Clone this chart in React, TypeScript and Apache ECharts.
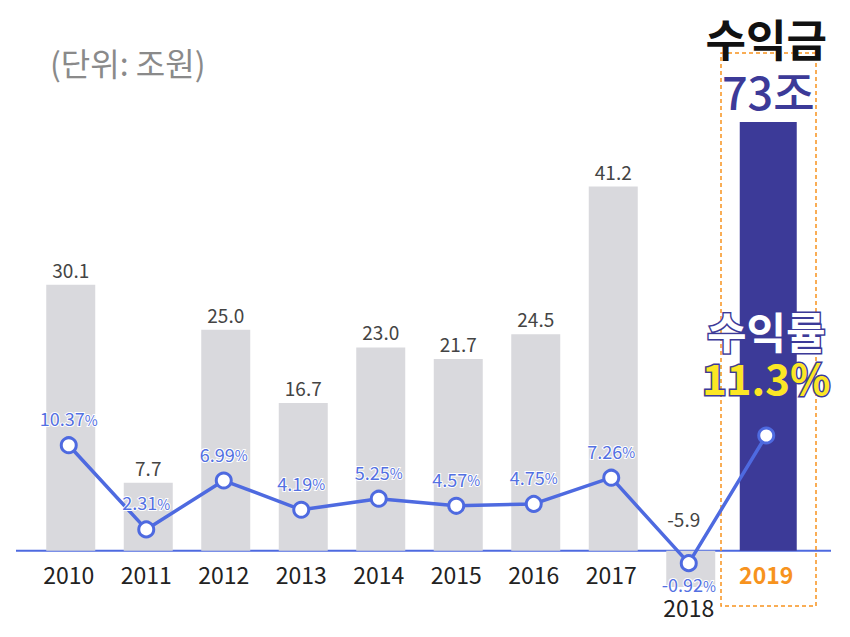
import React, { useEffect, useRef } from 'react';
import * as echarts from 'echarts';

const years = ['2010', '2011', '2012', '2013', '2014', '2015', '2016', '2017', '2018', '2019'];
const profit = [30.1, 7.7, 25.0, 16.7, 23.0, 21.7, 24.5, 41.2, -5.9, 73];
const margin = [10.37, 2.31, 6.99, 4.19, 5.25, 4.57, 4.75, 7.26, -0.92, 11.3];
const highlightYear = '2019';
const lowYear = '2018';
const unitLabel = '(단위: 조원)';
const profitTitle = '수익금';
const profitUnit = '조';
const marginTitle = '수익률';

const FONT = '"Noto Sans CJK KR", "Noto Sans", sans-serif';
const GREY = '#d9d9dd';
const NAVY = '#3c3a98';
const BLUE = '#4e6ae0';
const ORANGE = '#f7931e';
const YELLOW = '#fbe625';

export default function App() {
  const ref = useRef<HTMLDivElement>(null);
  useEffect(() => {
    if (!ref.current) return;
    const chart = echarts.init(ref.current, undefined, { renderer: 'svg' });
    const hiIdx = years.indexOf(highlightYear);

    const greyData = profit.map((v, i) => {
      if (i === hiIdx) return '-';
      if (v < 0) {
        return {
          value: v,
          label: { position: 'top', distance: 23, offset: [-7, 0] },
        };
      }
      return v;
    });
    const hiData = profit.map((v, i) => (i === hiIdx ? v : '-'));

    const lineData = margin.map((v, i) => {
      if (i === hiIdx) return { value: v, label: { show: false } };
      if (v < 0) return { value: v, label: { position: 'bottom', distance: 3 } };
      return v;
    });

    chart.setOption({
      animation: false,
      grid: {
        left: 30,
        right: 45,
        top: 122,
        bottom: 50,
        containLabel: false,
        outerBoundsMode: 'none',
      },
      xAxis: {
        type: 'category',
        data: years,
        axisLine: { show: false, onZero: false },
        axisTick: { show: false },
        axisLabel: {
          margin: -25,
          fontFamily: FONT,
          formatter: (v: string) =>
            v === lowYear ? `{low|${v}}` : v === highlightYear ? `{hi|${v}}` : `{n|${v}}`,
          rich: {
            n: { fontSize: 23, color: '#222', fontFamily: FONT },
            low: { fontSize: 23, color: '#222', fontFamily: FONT, padding: [33, 0, 0, 0] },
            hi: { fontSize: 23, color: ORANGE, fontWeight: 'bold', fontFamily: FONT },
          },
        },
      },
      yAxis: [
        { type: 'value', min: -4.1, max: 48.5, show: false, splitLine: { show: false } },
        { type: 'value', min: -3.2, max: 41.3, show: false, splitLine: { show: false } },
      ],
      series: [
        {
          type: 'bar',
          data: hiData,
          barWidth: 57,
          barGap: '-92.98%',
          clip: true,
          itemStyle: { color: NAVY },
          label: { show: false },
        },
        {
          type: 'bar',
          data: greyData,
          barWidth: 49,
          barGap: '-92.98%',
          clip: true,
          itemStyle: { color: GREY },
          label: {
            show: true,
            position: 'top',
            distance: 6,
            fontSize: 19,
            color: '#444',
            fontFamily: FONT,
            formatter: (p: any) => Number(p.value).toFixed(1),
          },
        },
        {
          type: 'line',
          yAxisIndex: 1,
          data: lineData,
          symbol: 'circle',
          symbolSize: 15,
          lineStyle: { color: BLUE, width: 3.5 },
          itemStyle: { color: '#fff', borderColor: BLUE, borderWidth: 3 },
          z: 5,
          label: {
            show: true,
            position: 'top',
            distance: 9,
            fontFamily: FONT,
            textBorderColor: '#fff',
            textBorderWidth: 2,
            formatter: (p: any) => `{n|${p.value}}{p|%}`,
            rich: {
              n: { fontSize: 18, color: '#5370e2', fontFamily: FONT },
              p: { fontSize: 14, color: '#5370e2', fontFamily: FONT, padding: [3, 0, 0, 0] },
            },
          },
        },
      ],
    });

    const zeroY = chart.convertToPixel({ yAxisIndex: 0 }, 0) as number;
    const hiX = chart.convertToPixel({ xAxisIndex: 0 }, highlightYear) as number;

    chart.setOption({
      graphic: [
        {
          type: 'line',
          z: 1,
          shape: { x1: 16, y1: zeroY, x2: 831, y2: zeroY },
          style: { stroke: BLUE, lineWidth: 2 },
        },
        {
          type: 'rect',
          z: 1,
          shape: { x: 721, y: 53, width: 95, height: 553 },
          style: { fill: 'none', stroke: ORANGE, lineWidth: 1.5, lineDash: [4, 3] },
        },
        {
          type: 'text',
          x: 50,
          y: 62,
          style: {
            text: unitLabel,
            fontSize: 32,
            fontFamily: FONT,
            fill: '#8a8a8a',
            align: 'left',
            verticalAlign: 'middle',
          },
        },
        {
          type: 'text',
          z: 100,
          x: hiX,
          y: 38,
          style: {
            text: profitTitle,
            fontSize: 44,
            fontWeight: 'bold',
            fontFamily: FONT,
            fill: '#111',
            align: 'center',
            verticalAlign: 'middle',
          },
        },
        {
          type: 'text',
          z: 100,
          x: hiX + 2,
          y: 90,
          style: {
            text: `${profit[hiIdx]}${profitUnit}`,
            fontSize: 45,
            fontWeight: 500,
            fontFamily: FONT,
            fill: NAVY,
            align: 'center',
            verticalAlign: 'middle',
          },
        },
        {
          type: 'text',
          z: 100,
          x: hiX,
          y: 330,
          style: {
            text: marginTitle,
            fontSize: 43,
            fontWeight: 'bold',
            fontFamily: FONT,
            fill: '#fff',
            stroke: NAVY,
            lineWidth: 3,
            align: 'center',
            verticalAlign: 'middle',
          },
        },
        {
          type: 'text',
          z: 100,
          x: hiX,
          y: 376,
          style: {
            text: `${margin[hiIdx]}%`,
            fontSize: 42,
            fontWeight: 'bold',
            fontFamily: FONT,
            fill: YELLOW,
            stroke: NAVY,
            lineWidth: 3,
            align: 'center',
            verticalAlign: 'middle',
          },
        },
      ],
    });

    return () => chart.dispose();
  }, []);

  return (
    <div
      ref={ref}
      style={{ position: 'absolute', left: 0, top: 0, width: 850, height: 637, background: '#fff' }}
    />
  );
}
